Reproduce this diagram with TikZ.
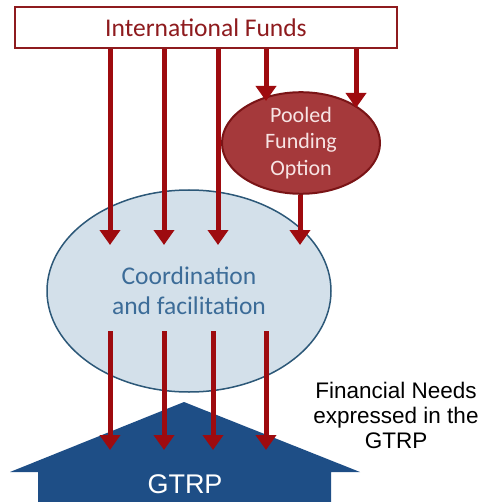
\documentclass[tikz,border=0pt]{standalone}
\usepackage{fontspec}
\setmainfont{Carlito}
\newfontfamily\arialf{Liberation Sans}
\usetikzlibrary{arrows.meta,shapes.geometric}
\definecolor{arrowred}{HTML}{9E0B0F}
\definecolor{boxred}{HTML}{8E1B1E}
\definecolor{poolfill}{HTML}{A5393B}
\definecolor{poolline}{HTML}{7A1416}
\definecolor{pooltext}{HTML}{F7E4E4}
\definecolor{coordfill}{HTML}{D3E0EA}
\definecolor{coordline}{HTML}{2C5878}
\definecolor{coordtext}{HTML}{3C6C98}
\definecolor{housefill}{HTML}{1E4E86}
\begin{document}
\begin{tikzpicture}[x=1pt,y=-1pt,
  flow/.style={draw=arrowred, line width=5pt, -{Triangle[width=20pt,length=15pt]}},
  fundsbox/.style={draw=boxred, line width=2pt, fill=white, minimum width=382pt, minimum height=41pt, inner sep=0pt, text=boxred, font=\fontsize{25.5}{28}\selectfont},
  poolnode/.style={ellipse, draw=poolline, line width=2pt, fill=poolfill, minimum width=158pt, minimum height=90pt, inner sep=0pt, text=pooltext, align=center, font=\fontsize{22}{26.5}\selectfont},
  coordnode/.style={ellipse, draw=coordline, line width=1.5pt, fill=coordfill, minimum width=284pt, minimum height=202pt, inner sep=0pt, text=coordtext, align=center, font=\fontsize{25.5}{30}\selectfont},
  housetext/.style={text=white, font=\arialf\fontsize{27}{30}\selectfont},
  needstext/.style={text=black, align=center, font=\arialf\fontsize{22.5}{25}\selectfont}]
\useasboundingbox (0,0) rectangle (482,502);
% house
\fill[housefill] (38,502) -- (38,472) -- (10,472) -- (184,402) -- (360,472) -- (331,472) -- (331,502) -- cycle;
\node[housetext] (gtrp) at (185,484) {GTRP};
% nodes
\node[fundsbox] (funds) at (206,28) {International Funds};
\node[coordnode] (coord) at (189,291) {Coordination\\and facilitation};
\node[poolnode] (pool) at (301,143) {Pooled\\Funding\\Option};
\node[needstext] (needs) at (396,415) {Financial Needs\\expressed in the\\GTRP};
% coordinates
\coordinate (t1) at (110,245);
\coordinate (t2) at (164,245);
\coordinate (t3) at (218,245);
\coordinate (t4) at (300,245);
\coordinate (p1) at (266,101);
\coordinate (p2) at (356,108);
\coordinate (s1) at (110,331);
\coordinate (s2) at (164,331);
\coordinate (s3) at (213,331);
\coordinate (s4) at (266,331);
\coordinate (e1) at (110,450);
\coordinate (e2) at (164,450);
\coordinate (e3) at (213,450);
\coordinate (e4) at (266,450);
% arrows
\draw[flow] (funds.south -| t1) -- (t1);
\draw[flow] (funds.south -| t2) -- (t2);
\draw[flow] (funds.south -| t3) -- (t3);
\draw[flow] (funds.south -| p1) -- (p1);
\draw[flow] (funds.south -| p2) -- (p2);
\draw[flow] (pool.south -| t4) -- (t4);
\draw[flow] (s1) -- (e1);
\draw[flow] (s2) -- (e2);
\draw[flow] (s3) -- (e3);
\draw[flow] (s4) -- (e4);
\end{tikzpicture}
\end{document}
